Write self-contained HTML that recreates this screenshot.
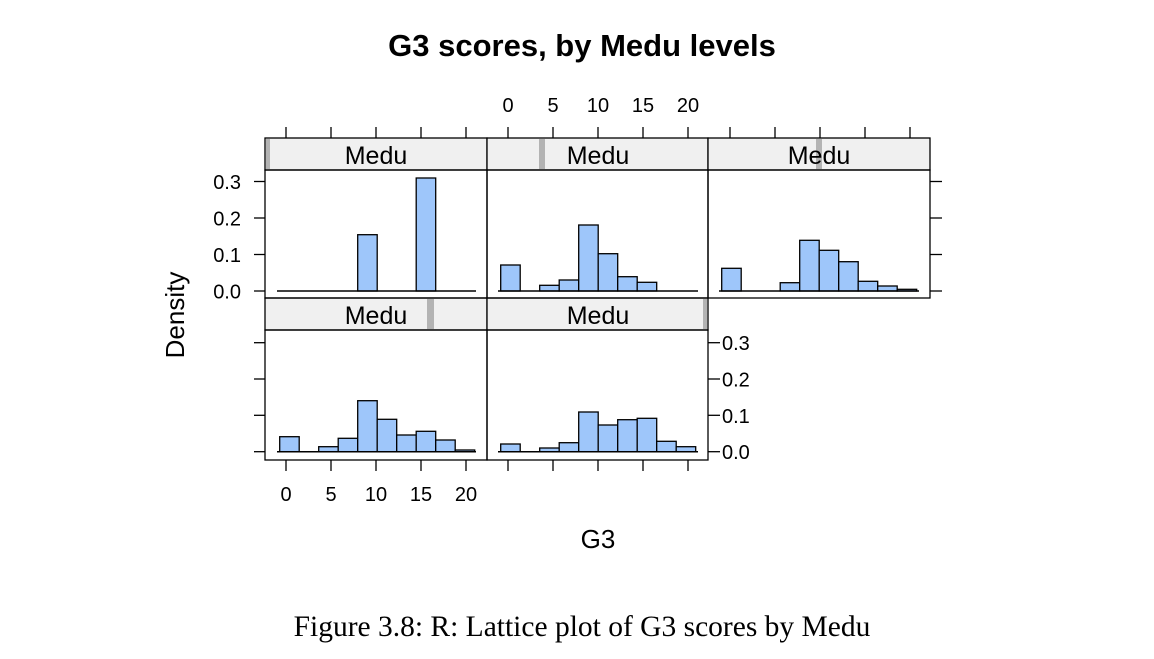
<!DOCTYPE html>
<html><head><meta charset="utf-8"><style>body{margin:0;background:#fff}</style></head><body>
<svg width="1154" height="654" xmlns="http://www.w3.org/2000/svg" font-family="Liberation Sans, Arial, sans-serif">
<rect width="1154" height="654" fill="#fff"/>
<text x="582" y="56" text-anchor="middle" font-size="31" font-weight="bold">G3 scores, by Medu levels</text>
<g stroke="#000" stroke-width="1.3">
<rect x="265" y="138" width="222" height="32" fill="#f0f0f0"/>
<rect x="487" y="138" width="221" height="32" fill="#f0f0f0"/>
<rect x="708" y="138" width="222" height="32" fill="#f0f0f0"/>
<rect x="265" y="298" width="222" height="32" fill="#f0f0f0"/>
<rect x="487" y="298" width="221" height="32" fill="#f0f0f0"/>
</g>
<g fill="#b3b3b3">
<rect x="266" y="139" width="4" height="30"/>
<rect x="539" y="139" width="6" height="30"/>
<rect x="816" y="139" width="6" height="30"/>
<rect x="427" y="299" width="7" height="30"/>
<rect x="703" y="299" width="4" height="30"/>
</g>
<g font-size="25" text-anchor="middle">
<text x="376" y="164">Medu</text><text x="598" y="164">Medu</text><text x="819" y="164">Medu</text>
<text x="376" y="324">Medu</text><text x="598" y="324">Medu</text>
</g>
<g stroke="#000" stroke-width="1.3" fill="none">
<rect x="265" y="170" width="222" height="128"/>
<rect x="487" y="170" width="221" height="128"/>
<rect x="708" y="170" width="222" height="128"/>
<rect x="265" y="330" width="222" height="130"/>
<rect x="487" y="330" width="221" height="130"/>
</g>
<g fill="#9ec6fa" stroke="#000" stroke-width="1.3">
<rect x="357.7" y="234.7" width="19.5" height="56.3"/>
<rect x="416.2" y="178" width="19.5" height="113"/>

<rect x="500.7" y="265" width="19.5" height="26"/>
<rect x="539.7" y="285.3" width="19.5" height="5.7"/>
<rect x="559.2" y="280" width="19.5" height="11"/>
<rect x="578.7" y="225" width="19.5" height="66"/>
<rect x="598.2" y="253.7" width="19.5" height="37.3"/>
<rect x="617.7" y="276.7" width="19.5" height="14.3"/>
<rect x="637.2" y="282.3" width="19.5" height="8.7"/>

<rect x="721.7" y="268.3" width="19.5" height="22.7"/>
<rect x="780.2" y="282.7" width="19.5" height="8.3"/>
<rect x="799.7" y="240.3" width="19.5" height="50.7"/>
<rect x="819.2" y="250.3" width="19.5" height="40.7"/>
<rect x="838.7" y="261.7" width="19.5" height="29.3"/>
<rect x="858.2" y="281.3" width="19.5" height="9.7"/>
<rect x="877.7" y="286" width="19.5" height="5"/>
<rect x="897.2" y="289.3" width="19.5" height="1.7"/>

<rect x="279.7" y="436.7" width="19.5" height="15"/>
<rect x="318.7" y="446.7" width="19.5" height="5"/>
<rect x="338.2" y="438.3" width="19.5" height="13.4"/>
<rect x="357.7" y="400.7" width="19.5" height="51"/>
<rect x="377.2" y="419.3" width="19.5" height="32.4"/>
<rect x="396.7" y="435" width="19.5" height="16.7"/>
<rect x="416.2" y="431.3" width="19.5" height="20.4"/>
<rect x="435.7" y="440" width="19.5" height="11.7"/>
<rect x="455.2" y="450" width="19.5" height="1.7"/>

<rect x="500.7" y="444" width="19.5" height="7.7"/>
<rect x="539.7" y="448" width="19.5" height="3.7"/>
<rect x="559.2" y="442.7" width="19.5" height="9"/>
<rect x="578.7" y="412" width="19.5" height="39.7"/>
<rect x="598.2" y="425" width="19.5" height="26.7"/>
<rect x="617.7" y="419.7" width="19.5" height="32"/>
<rect x="637.2" y="418.3" width="19.5" height="33.4"/>
<rect x="656.7" y="441.3" width="19.5" height="10.4"/>
<rect x="676.2" y="446.7" width="19.5" height="5"/>
</g>
<g stroke="#000" stroke-width="1.5">
<line x1="277" y1="291" x2="476" y2="291"/>
<line x1="498" y1="291" x2="698" y2="291"/>
<line x1="719" y1="291" x2="919" y2="291"/>
<line x1="277" y1="451.7" x2="476" y2="451.7"/>
<line x1="498" y1="451.7" x2="698" y2="451.7"/>
</g>
<g stroke="#000" stroke-width="1.3">
<line x1="286" y1="127" x2="286" y2="138"/><line x1="331" y1="127" x2="331" y2="138"/><line x1="376" y1="127" x2="376" y2="138"/><line x1="421" y1="127" x2="421" y2="138"/><line x1="466" y1="127" x2="466" y2="138"/>
<line x1="508" y1="127" x2="508" y2="138"/><line x1="553" y1="127" x2="553" y2="138"/><line x1="598" y1="127" x2="598" y2="138"/><line x1="643" y1="127" x2="643" y2="138"/><line x1="688" y1="127" x2="688" y2="138"/>
<line x1="730" y1="127" x2="730" y2="138"/><line x1="775" y1="127" x2="775" y2="138"/><line x1="820" y1="127" x2="820" y2="138"/><line x1="865" y1="127" x2="865" y2="138"/><line x1="910" y1="127" x2="910" y2="138"/>
<line x1="286" y1="460" x2="286" y2="471"/><line x1="331" y1="460" x2="331" y2="471"/><line x1="376" y1="460" x2="376" y2="471"/><line x1="421" y1="460" x2="421" y2="471"/><line x1="466" y1="460" x2="466" y2="471"/>
<line x1="508" y1="460" x2="508" y2="471"/><line x1="553" y1="460" x2="553" y2="471"/><line x1="598" y1="460" x2="598" y2="471"/><line x1="643" y1="460" x2="643" y2="471"/><line x1="688" y1="460" x2="688" y2="471"/>
<line x1="254" y1="181.5" x2="265" y2="181.5"/><line x1="254" y1="218" x2="265" y2="218"/><line x1="254" y1="254.5" x2="265" y2="254.5"/><line x1="254" y1="291" x2="265" y2="291"/>
<line x1="254" y1="342.7" x2="265" y2="342.7"/><line x1="254" y1="379" x2="265" y2="379"/><line x1="254" y1="415.3" x2="265" y2="415.3"/><line x1="254" y1="451.7" x2="265" y2="451.7"/>
<line x1="930" y1="181.5" x2="942" y2="181.5"/><line x1="930" y1="218" x2="942" y2="218"/><line x1="930" y1="254.5" x2="942" y2="254.5"/><line x1="930" y1="291" x2="942" y2="291"/>
<line x1="708" y1="342.7" x2="720" y2="342.7"/><line x1="708" y1="379" x2="720" y2="379"/><line x1="708" y1="415.3" x2="720" y2="415.3"/><line x1="708" y1="451.7" x2="720" y2="451.7"/>
</g>
<g font-size="20" text-anchor="middle">
<text x="508" y="112">0</text><text x="553" y="112">5</text><text x="598" y="112">10</text><text x="643" y="112">15</text><text x="688" y="112">20</text>
<text x="286" y="501">0</text><text x="331" y="501">5</text><text x="376" y="501">10</text><text x="421" y="501">15</text><text x="466" y="501">20</text>
</g>
<g font-size="20" text-anchor="end">
<text x="241" y="189">0.3</text><text x="241" y="225.5">0.2</text><text x="241" y="262">0.1</text><text x="241" y="298.5">0.0</text>
</g>
<g font-size="20" text-anchor="start">
<text x="722" y="350">0.3</text><text x="722" y="386.5">0.2</text><text x="722" y="423">0.1</text><text x="722" y="459">0.0</text>
</g>
<text transform="translate(184,315) rotate(-90)" text-anchor="middle" font-size="26">Density</text>
<text x="598" y="548" text-anchor="middle" font-size="26">G3</text>
<text x="582" y="636" text-anchor="middle" font-size="29.5" font-family="Liberation Serif, serif">Figure 3.8: R: Lattice plot of G3 scores by Medu</text>
</svg>
</body></html>
